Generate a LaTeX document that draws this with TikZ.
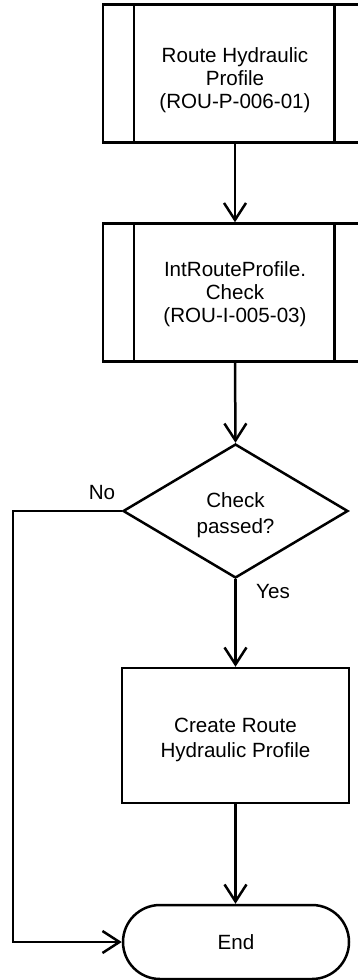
\documentclass[tikz,border=0pt]{standalone}
\usepackage{fontspec}
\setmainfont{Liberation Sans}
\usetikzlibrary{arrows.meta,shapes.geometric,calc}

\tikzset{
  flow/.style={line width=2.5pt, draw=black},
  arrowline/.style={flow, -{Straight Barb[length=17pt,width=22pt,line width=2.5pt]}},
  procbox/.style={flow, rectangle, minimum width=264pt, minimum height=138pt,
    inner sep=0pt},
  taskbox/.style={flow, rectangle, minimum width=227pt, minimum height=135pt,
    inner sep=0pt},
  decision/.style={flow, diamond, minimum width=225pt, minimum height=134pt,
    inner sep=0pt},
  terminal/.style={flow, rectangle, rounded corners=37pt, minimum width=226pt,
    minimum height=74pt, inner sep=0pt, font=\fontsize{20.6}{24}\selectfont},
  lbl/.style={font=\fontsize{20.6}{24}\selectfont, inner sep=0pt},
  txt/.style={inner sep=0pt, align=center, font=\fontsize{20.6}{#1}\selectfont}
}

\begin{document}
\begin{tikzpicture}[x=1pt,y=-1pt]
  \useasboundingbox (0,0) rectangle (358,980);
  \clip (0,0) rectangle (358,980);

  % predefined process: route hydraulic profile
  \node[procbox] (p1) at (235,73.5) {};
  \node[txt=23] (t1) at (235,80) {Route Hydraulic\\Profile\\(ROU-P-006-01)};
  \draw[flow] ($(p1.north west)+(32,0)$) -- ($(p1.south west)+(32,0)$);
  \draw[flow] ($(p1.north east)+(-34,0)$) -- ($(p1.south east)+(-34,0)$);

  % predefined process: interface check
  \node[procbox] (p2) at (235,292.5) {};
  \node[txt=23] (t2) at (235,294) {IntRouteProfile.\\Check\\(ROU-I-005-03)};
  \draw[flow] ($(p2.north west)+(32,0)$) -- ($(p2.south west)+(32,0)$);
  \draw[flow] ($(p2.north east)+(-34,0)$) -- ($(p2.south east)+(-34,0)$);

  % decision
  \node[decision] (d) at (235.5,511) {};
  \node[txt=26] (dt) at (235.5,515) {Check\\passed?};

  % task
  \node[taskbox] (c) at (235.5,735.5) {};
  \node[txt=25] (ct) at (235.5,739.5) {Create Route\\Hydraulic Profile};

  % terminator
  \node[terminal] (e) at (236,942) {End};

  % branch labels
  \node[lbl] (no) at (102,493) {No};
  \node[lbl] (yes) at (273,592) {Yes};

  % connectors
  \coordinate (k) at (13,511);
  \draw[arrowline] (p1.south) -- (p2.north);
  \draw[arrowline] (p2.south) -- (d.north);
  \draw[arrowline] (d.south) -- (d.south |- c.north);
  \draw[arrowline] (c.south) -- (c.south |- e.north);
  \draw[arrowline] (d.west) -- (k) |- (e.west);
\end{tikzpicture}
\end{document}
